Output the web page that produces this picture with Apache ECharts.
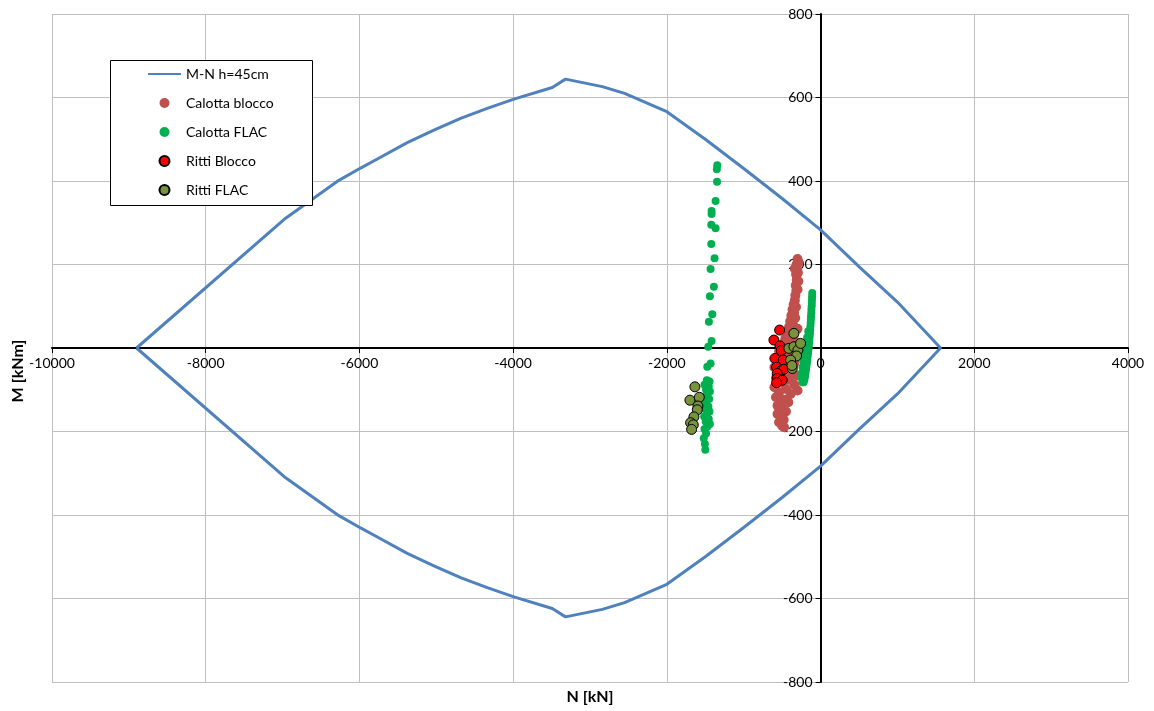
<!DOCTYPE html>
<html>
<head>
<meta charset="utf-8">
<title>Dominio M-N h=45cm</title>
<script src="https://cdn.jsdelivr.net/npm/echarts@6/dist/echarts.min.js"></script>
<style>
  html, body { margin: 0; padding: 0; background: #fff; }
  #chart { width: 1154px; height: 711px; }
</style>
</head>
<body>
<div id="chart"></div>
<script>
// Interaction domain M-N for the h=45cm section: upper branch, then lower branch back
const dominioSup = [
  [-8900, 0], [-6960, 311], [-6290, 399], [-5985, 431], [-5725, 457], [-5378, 492],
  [-5031, 522], [-4684, 550], [-4337, 574], [-3990, 596], [-3491, 624], [-3318, 644],
  [-2840, 626], [-2550, 610], [-2000, 566], [-1500, 500], [-1000, 430], [-500, 358],
  [0, 283], [500, 195], [1000, 110], [1561, 0]
];
const dominioInf = [
  [1561, 0], [1000, -110], [500, -195], [0, -283], [-500, -358], [-1000, -430],
  [-1500, -500], [-2000, -566], [-2550, -610], [-2840, -626], [-3318, -644], [-3491, -624],
  [-3990, -596], [-4337, -574], [-4684, -550], [-5031, -522], [-5378, -492], [-5725, -457],
  [-5985, -431], [-6290, -399], [-6960, -311], [-8900, 0]
];

// Crown (calotta) forces, block model
const calottaBlocco = [
  [-300, 213], [-312, 200], [-285, 205], [-335, 190], [-305, 188], [-295, 180], [-318, 176],
  [-310, 163], [-290, 160], [-322, 150], [-300, 140], [-315, 138], [-328, 126],
  [-335, 114], [-350, 104], [-320, 98], [-365, 92], [-345, 84], [-380, 78], [-330, 72], [-395, 64],
  [-360, 56], [-410, 50], [-300, 46], [-385, 42],
  [-430, 34], [-350, 30], [-460, 22], [-400, 16], [-300, 12], [-500, 8], [-440, 2], [-360, -4],
  [-540, -8], [-470, -14], [-300, -18], [-400, -22], [-580, -26], [-510, -32], [-340, -36], [-440, -40],
  [-600, -46], [-540, -52], [-380, -56], [-470, -62], [-310, -66], [-580, -72], [-410, -76], [-510, -82],
  [-340, -88], [-600, -94], [-450, -98], [-300, -102],
  [-540, -106], [-390, -110], [-580, -118], [-480, -124], [-420, -130], [-560, -138], [-500, -146],
  [-450, -152], [-560, -158], [-520, -166], [-480, -172], [-540, -178], [-500, -186], [-475, -190]
];

// Crown (calotta) forces, FLAC model
const calottaFLAC = [
  [-1344, 438], [-1350, 428], [-1347, 398], [-1366, 352], [-1418, 328], [-1418, 321], [-1422, 295],
  [-1366, 287], [-1422, 249], [-1379, 215], [-1431, 189], [-1388, 147], [-1440, 124], [-1409, 81],
  [-1453, 63], [-1418, 17], [-1461, 3], [-1431, -37], [-1474, -45],
  [-1480, -77], [-1445, -80], [-1510, -88], [-1455, -92], [-1490, -100], [-1440, -104], [-1470, -110],
  [-1510, -116], [-1450, -122], [-1485, -128], [-1520, -134], [-1460, -140], [-1500, -146], [-1445, -152],
  [-1480, -158], [-1515, -164], [-1455, -170], [-1495, -176], [-1440, -182], [-1470, -188], [-1510, -194],
  [-1490, -205], [-1520, -216], [-1505, -230], [-1500, -244],
  [-108, 132], [-110, 124], [-112, 116], [-114, 108], [-116, 100], [-119, 92], [-121, 84], [-124, 76],
  [-126, 68], [-129, 60], [-132, 52], [-135, 44], [-138, 36], [-142, 28], [-146, 20], [-150, 12],
  [-154, 4], [-158, -4], [-163, -12], [-168, -20], [-173, -28], [-178, -36], [-184, -44], [-190, -52],
  [-196, -60], [-202, -68], [-210, -76], [-220, -82],
  [-160, 40], [-175, 25], [-190, 10], [-205, -5], [-215, -18], [-225, -32], [-235, -46], [-242, -60],
  [-245, -72], [-235, -82]
];

// Side walls (ritti) forces, block model
const rittiBlocco = [
  [-533, 43], [-607, 19], [-529, 5], [-511, -6], [-594, -25], [-486, -29], [-572, -46],
  [-511, -54], [-477, -51], [-564, -61], [-564, -73], [-498, -77], [-572, -83]
];

// Side walls (ritti) forces, FLAC model
const rittiFLAC = [
  [-347, 35], [-412, -1], [-347, 3], [-295, -5], [-260, 11], [-312, -19], [-390, -29],
  [-368, -49], [-372, -42],
  [-1635, -93], [-1700, -125], [-1578, -118], [-1596, -139], [-1604, -148], [-1648, -165],
  [-1691, -179], [-1656, -184], [-1678, -195]
];

const xTicks = { min: -10000, max: 4000, step: 2000 };
const yTicks = { min: -800, max: 800, step: 200 };

const FONT = 'Lato, "Liberation Sans", sans-serif';
const gridColor = '#bfbfbf';

// plot rectangle
const G = { left: 52, right: 26, top: 14, bottom: 29, width: 1154 - 52 - 26, height: 711 - 14 - 29 };
// the axes cross at N = 0 and M = 0: shift each axis from the grid edge to the zero line
const xAxisShift = -G.height * (0 - yTicks.min) / (yTicks.max - yTicks.min);
const yAxisShift = -G.width * (0 - xTicks.min) / (xTicks.max - xTicks.min);

const chart = echarts.init(document.getElementById('chart'), null, { renderer: 'canvas' });

const axisCommon = {
  type: 'value',
  axisLine: { onZero: false, lineStyle: { color: '#000', width: 2 } },
  axisTick: { show: true, inside: false, length: 5, lineStyle: { color: '#000', width: 1 } },
  splitLine: { show: true, lineStyle: { color: gridColor, width: 1 } },
  axisLabel: { color: '#000', fontSize: 14, fontFamily: FONT, formatter: v => String(v) }
};

chart.setOption({
  animation: false,
  backgroundColor: '#fff',
  grid: { left: G.left, right: G.right, top: G.top, bottom: G.bottom, containLabel: false },
  xAxis: Object.assign({}, axisCommon, {
    position: 'bottom',
    offset: xAxisShift,
    min: xTicks.min, max: xTicks.max, interval: xTicks.step,
    axisLabel: Object.assign({}, axisCommon.axisLabel, { margin: 8, showMinLabel: true, showMaxLabel: true })
  }),
  yAxis: Object.assign({}, axisCommon, {
    position: 'left',
    offset: yAxisShift,
    min: yTicks.min, max: yTicks.max, interval: yTicks.step,
    axisLabel: Object.assign({}, axisCommon.axisLabel, { margin: 8 })
  }),
  legend: {
    orient: 'vertical',
    left: 147,
    top: 66,
    padding: 0,
    itemGap: 13,
    itemWidth: 33,
    itemHeight: 10,
    z: 8,
    textStyle: { color: '#000', fontSize: 14, fontFamily: FONT, lineHeight: 16 },
    data: [
      { name: 'M-N h=45cm', itemStyle: { color: 'rgba(0,0,0,0)', borderWidth: 0 } },
      'Calotta blocco', 'Calotta FLAC', 'Ritti Blocco', 'Ritti FLAC'
    ]
  },
  graphic: [
    {
      type: 'rect', z: 6,
      shape: { x: 110.5, y: 60.5, width: 202, height: 145 },
      style: { fill: '#fff', stroke: '#000', lineWidth: 1 }
    },
    {
      type: 'text', z: 6,
      x: 18, y: 371, rotation: Math.PI / 2,
      style: { text: 'M [kNm]', fill: '#000', font: 'bold 16px ' + FONT, align: 'center', verticalAlign: 'middle' }
    },
    {
      type: 'text', z: 6,
      x: 590, y: 697,
      style: { text: 'N [kN]', fill: '#000', font: 'bold 16px ' + FONT, align: 'center', verticalAlign: 'middle' }
    }
  ],
  series: [
    {
      name: 'M-N h=45cm',
      type: 'line',
      data: dominioSup.concat(dominioInf.slice(1)),
      symbol: 'none',
      lineStyle: { color: '#4f81bd', width: 3 },
      itemStyle: { color: '#4f81bd' },
      z: 2
    },
    {
      name: 'Calotta blocco',
      type: 'scatter',
      data: calottaBlocco,
      symbol: 'circle',
      symbolSize: 10,
      itemStyle: { color: '#c0504d', opacity: 1 },
      z: 3
    },
    {
      name: 'Calotta FLAC',
      type: 'scatter',
      data: calottaFLAC,
      symbol: 'circle',
      symbolSize: 8,
      itemStyle: { color: '#00b050', opacity: 1 },
      z: 3
    },
    {
      name: 'Ritti Blocco',
      type: 'scatter',
      data: rittiBlocco,
      symbol: 'circle',
      symbolSize: 10,
      itemStyle: { color: '#ff0000', borderColor: '#000', borderWidth: 1, opacity: 1 },
      z: 3
    },
    {
      name: 'Ritti FLAC',
      type: 'scatter',
      data: rittiFLAC,
      symbol: 'circle',
      symbolSize: 10,
      itemStyle: { color: '#77933c', borderColor: '#000', borderWidth: 1, opacity: 1 },
      z: 3
    }
  ]
});
</script>
</body>
</html>
